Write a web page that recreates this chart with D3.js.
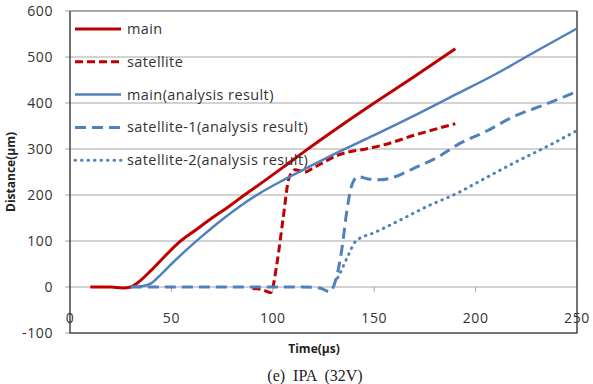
<!DOCTYPE html>
<html lang="en">
<head>
    <meta charset="UTF-8">
    <title>Distance vs time, IPA 32V</title>
    <script src="https://cdn.jsdelivr.net/npm/d3@7"></script>
    <style>
        body { margin: 0; background: white; }
        text { font-family: "Open Sans", Lato, sans-serif; fill: #333; }
        .grid line { stroke: #a6a6a6; stroke-width: 1; }
        .series { fill: none; }
    </style>
</head>
<body>
<svg width="593" height="384"></svg>

<script>
    // values: [time µs, distance µm]
    const mainExp = [[10,0],[20,0],[26,-2],[30,0],[33,8],[40,36],[47,68],[54,98],[62,124],[70,150],
                     [78,174],[86,200],[95,228],[105,260],[116,296],[133,349],[150,400],[170,458],[190,518]];
    const satExp  = [[90,-3],[95,-6],[99,-12],[102,50],[105,146],[108,237],[111,255],[116,250],[120,259],
                     [133,288],[148,302],[153,307],[172,333],[190,355]];
    const mainAna = [[30,0],[36,2],[40,8],[45,28],[50,50],[57,79],[65,110],[74,143],[84,176],[94,205],
                     [105,232],[116,257],[133,295],[150,330],[170,373],[190,418],[210,463],[230,513],[250,562]];
    const sat1Ana = [[30,0],[60,0],[90,0],[115,0],[123,-2],[128,-10],[131.5,23],[134,81],[136.6,168],[139,222],
                     [142,240],[147,235],[152,233],[160,239],[169,257],[182,284],[191,309],
                     [205,338],[219,371],[235,398],[250,425]];
    const sat2Ana = [[132,20],[134,38],[137,67],[141,100],[150,118],[163,146],[176,175],[191,204],
                     [202,230],[219,270],[235,305],[250,340]];

    const legendNames = ["main", "satellite", "main(analysis result)",
                         "satellite-1(analysis result)", "satellite-2(analysis result)"];
    const xTicks = [0, 50, 100, 150, 200, 250];
    const yTicks = [-100, 0, 100, 200, 300, 400, 500, 600];

    const series = [
        {data: mainExp, color: "#c00000", width: 3, dash: null, cap: "butt"},
        {data: satExp,  color: "#c00000", width: 3, dash: "8,4", cap: "butt"},
        {data: mainAna, color: "#4f81bd", width: 2.5, dash: null, cap: "butt"},
        {data: sat1Ana, color: "#4f81bd", width: 3, dash: "11,6", cap: "butt"},
        {data: sat2Ana, color: "#4f81bd", width: 3, dash: "0.5,6", cap: "round"}
    ];

    const svg = d3.select("svg");
    const pLeft = 70, pRight = 577, pTop = 11, pBottom = 333;

    const x = d3.scaleLinear().domain([0, 250]).range([pLeft, pRight]);
    const y = d3.scaleLinear().domain([-100, 600]).range([pBottom, pTop]);

    // horizontal gridlines (with little ticks sticking out to the left)
    svg.append("g").attr("class", "grid")
       .selectAll("line")
       .data(yTicks)
          .join("line")
            .attr("x1", pLeft - 5).attr("x2", pRight)
            .attr("y1", d => y(d)).attr("y2", d => y(d));

    // plot frame
    svg.append("rect")
       .attr("x", pLeft).attr("y", pTop)
       .attr("width", pRight - pLeft).attr("height", pBottom - pTop)
       .attr("fill", "none").attr("stroke", "#7f7f7f");
    svg.append("path")
       .attr("d", `M${pLeft},${pTop}V${pBottom}H${pRight}V${pTop}`)
       .attr("fill", "none").attr("stroke", "#404040").attr("stroke-width", 1.2);

    // category axis crosses at 0: ticks hang below the zero line
    svg.append("g")
       .selectAll("line")
       .data(xTicks.slice(1, -1))
          .join("line")
            .attr("x1", d => x(d)).attr("x2", d => x(d))
            .attr("y1", y(0)).attr("y2", y(0) + 5)
            .attr("stroke", "#a6a6a6");

    // y tick labels
    svg.append("g")
       .selectAll("text")
       .data(yTicks)
          .join("text")
            .attr("x", 53).attr("y", d => y(d) + 5)
            .attr("text-anchor", "end")
            .style("font-size", "14px").style("letter-spacing", "0.6px")
            .text(d => d);

    // x tick labels (sit between 0 and -100)
    svg.append("g")
       .selectAll("text")
       .data(xTicks)
          .join("text")
            .attr("x", d => x(d)).attr("y", 323)
            .attr("text-anchor", "middle")
            .style("font-size", "14px").style("letter-spacing", "0.6px")
            .text(d => d);

    const line = d3.line()
        .x(d => x(d[0]))
        .y(d => y(d[1]))
        .curve(d3.curveMonotoneX);

    svg.append("g")
       .selectAll("path")
       .data(series)
          .join("path")
            .attr("class", "series")
            .attr("d", d => line(d.data))
            .attr("stroke", d => d.color)
            .attr("stroke-width", d => d.width)
            .attr("stroke-dasharray", d => d.dash)
            .attr("stroke-linecap", d => d.cap)
            .attr("stroke-linejoin", "round");

    // legend in the upper left corner of the plot
    const legend = svg.append("g")
       .selectAll("g")
       .data(series)
          .join("g")
            .attr("transform", (d, i) => `translate(75,${29 + i * 32.8})`);
    legend.append("line")
       .attr("x1", 0).attr("x2", 46)
       .attr("stroke", d => d.color)
       .attr("stroke-width", d => d.width)
       .attr("stroke-dasharray", d => d.dash)
       .attr("stroke-linecap", d => d.cap);
    legend.append("text")
       .attr("x", 52).attr("y", 5)
       .style("font-size", "14.5px").style("letter-spacing", "0.4px")
       .text((d, i) => legendNames[i]);

    // axis titles and caption
    svg.append("text")
       .attr("transform", "translate(15,172) rotate(-90)")
       .attr("text-anchor", "middle")
       .style("font-size", "12px").style("font-weight", "bold").style("fill", "#222")
       .text("Distance(µm)");
    svg.append("text")
       .attr("x", 314).attr("y", 353)
       .attr("text-anchor", "middle")
       .style("font-size", "12px").style("font-weight", "bold").style("fill", "#222")
       .text("Time(µs)");
    svg.append("text")
       .attr("x", 315).attr("y", 381)
       .attr("text-anchor", "middle")
       .style("font-family", "'Liberation Serif', 'DejaVu Serif', serif")
       .style("font-size", "16px").style("fill", "#222")
       .attr("xml:space", "preserve")
       .text("(e)  IPA  (32V)");
</script>
</body>
</html>
